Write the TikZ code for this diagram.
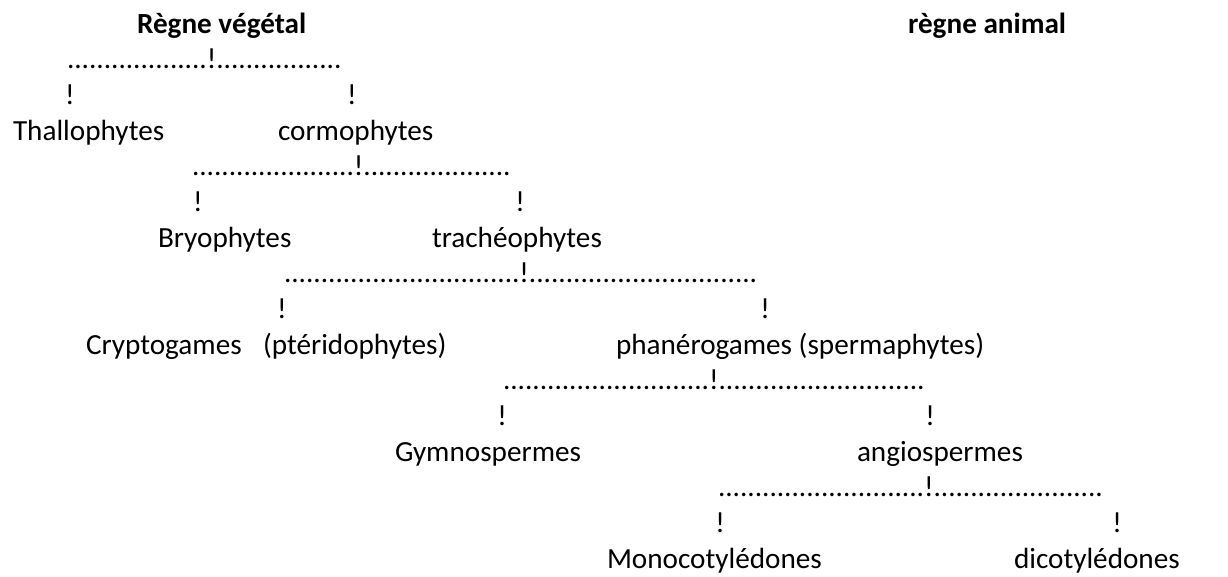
\documentclass[tikz,border=0pt]{standalone}
\usepackage{fontspec}
\setmainfont{Carlito}
\begin{document}
\begin{tikzpicture}[x=1pt,y=-1pt,
  base/.style={inner sep=0pt,outer sep=0pt,font=\fontsize{29.2}{35}\selectfont},
  lbl/.style={base,anchor=base west},
  head/.style={base,anchor=base west,font=\fontsize{29.2}{35}\selectfont\bfseries},
  bang/.style={base,anchor=base}]
\useasboundingbox (0,0) rectangle (1228,576);
% row 0
\node[head] (rv) at (137,33) {Règne végétal};
\node[head] (ra) at (908,33) {règne animal};
% row 1
\node[lbl] (d1) at (67,68.7) {...................!.................};
% row 2
\node[bang] (b2a) at (70,104.3) {!};
\node[bang] (b2b) at (352,104.3) {!};
% row 3
\node[lbl] (thal) at (13,140) {Thallophytes};
\node[lbl] (corm) at (278,140) {cormophytes};
% row 4
\node[lbl] (d4) at (192,175.7) {......................!....................};
% row 5
\node[bang] (b5a) at (198,211.4) {!};
\node[bang] (b5b) at (520,211.4) {!};
% row 6
\node[lbl] (bryo) at (158,247) {Bryophytes};
\node[lbl] (trac) at (432,247) {trachéophytes};
% row 7
\node[lbl] (d7) at (284,282.7) {................................!...............................};
% row 8
\node[bang] (b8a) at (282,318.4) {!};
\node[bang] (b8b) at (765,318.4) {!};
% row 9
\node[lbl] (cryp) at (86,354) {Cryptogames};
\node[lbl] (pter) at (263,354) {(ptéridophytes)};
\node[lbl] (phan) at (616,354) {phanérogames (spermaphytes)};
% row 10
\node[lbl] (d10) at (503,389.7) {............................!............................};
% row 11
\node[bang] (b11a) at (502,425.4) {!};
\node[bang] (b11b) at (930,425.4) {!};
% row 12
\node[lbl] (gymn) at (395,461) {Gymnospermes};
\node[lbl] (angi) at (857,461) {angiospermes};
% row 13
\node[lbl] (d13) at (718,496.7) {............................!.......................};
% row 14
\node[bang] (b14a) at (720,532.4) {!};
\node[bang] (b14b) at (1117,532.4) {!};
% row 15
\node[lbl] (mono) at (607,568) {Monocotylédones};
\node[lbl] (dico) at (1014,568) {dicotylédones};
\end{tikzpicture}
\end{document}
